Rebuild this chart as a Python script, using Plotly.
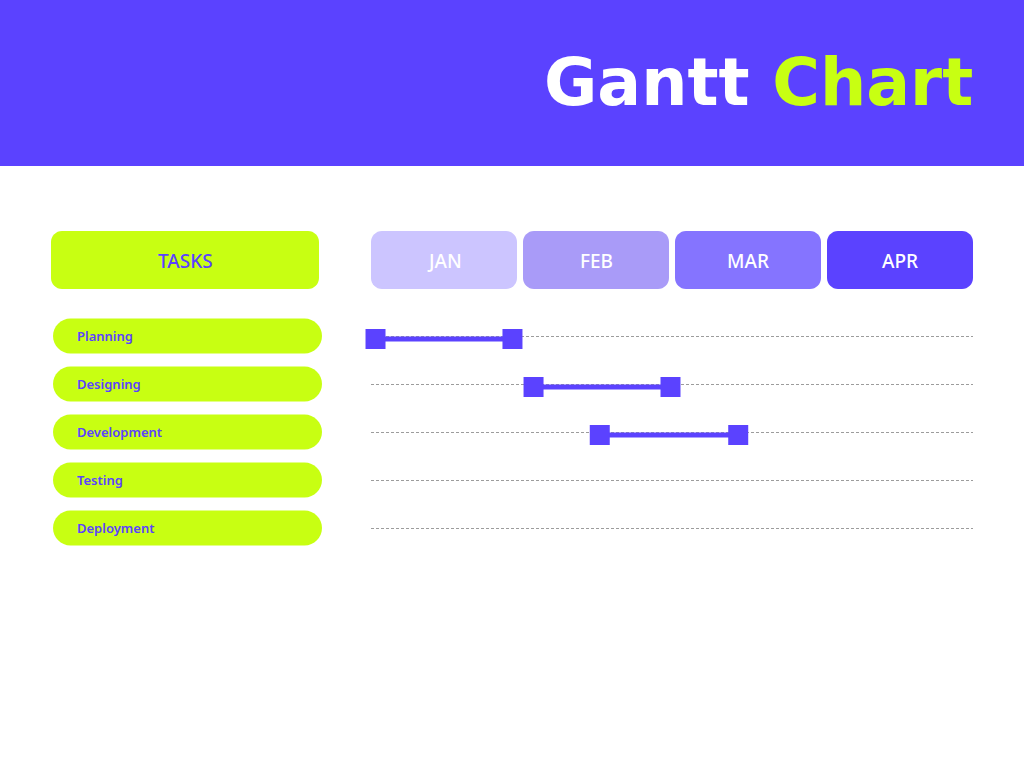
import plotly.graph_objects as go

# ---------------- data ----------------
tasks = ["Planning", "Designing", "Development", "Testing", "Deployment"]
months = ["JAN", "FEB", "MAR", "APR"]
# task start / end in months from the start of JAN
task_start = [0.03, 1.08, 1.52, None, None]
task_end = [0.94, 1.99, 2.44, None, None]
title_main = "Gantt"
title_accent = "Chart"
header_label = "TASKS"

# ---------------- style ----------------
W, H = 1024, 768
PURPLE = "#5B42FF"
LIME = "#C8FF12"
MONTH_COLORS = ["#CCC5FF", "#A99BF8", "#8574FF", "#5B42FF"]
GRID = "#9C9C9C"
FONT = "Noto Sans"


def px(x):
    return x / W


def py(y):
    return 1 - y / H


def rrect(x0, y0, x1, y1, r):
    k = 0.5523 * r
    pts = [
        ("M", [(x0 + r, y0)]),
        ("L", [(x1 - r, y0)]),
        ("C", [(x1 - r + k, y0), (x1, y0 + r - k), (x1, y0 + r)]),
        ("L", [(x1, y1 - r)]),
        ("C", [(x1, y1 - r + k), (x1 - r + k, y1), (x1 - r, y1)]),
        ("L", [(x0 + r, y1)]),
        ("C", [(x0 + r - k, y1), (x0, y1 - r + k), (x0, y1 - r)]),
        ("L", [(x0, y0 + r)]),
        ("C", [(x0, y0 + r - k), (x0 + r - k, y0), (x0 + r, y0)]),
    ]
    s = ""
    for cmd, ps in pts:
        s += cmd + " ".join(f"{px(a):.5f},{py(b):.5f}" for a, b in ps) + " "
    return s + "Z"


# layout geometry (pixels)
PLOT_X0, PLOT_X1 = 371, 973
ROW0, ROW_H = 312, 48
n = len(tasks)
ROWS_Y1 = ROW0 + ROW_H * n
BAR_SHIFT = 3

fig = go.Figure()

# invisible trace so the task-row axis (with its dashed grid) is drawn
fig.add_trace(go.Scatter(
    x=[0] * n, y=list(range(n)), mode="markers",
    marker=dict(opacity=0, size=1), hoverinfo="skip", showlegend=False,
    xaxis="x", yaxis="y",
))

for i, t in enumerate(tasks):
    if task_start[i] is None:
        continue
    fig.add_trace(go.Scatter(
        x=[task_start[i], task_end[i]], y=[i, i],
        mode="lines+markers",
        line=dict(color=PURPLE, width=5),
        marker=dict(symbol="square", size=20, color=PURPLE,
                    line=dict(color=PURPLE, width=0)),
        cliponaxis=False,
        xaxis="x", yaxis="y2", hoverinfo="skip", showlegend=False,
    ))

shapes = []
annotations = []

# header band
shapes.append(dict(type="rect", xref="paper", yref="paper", x0=0, x1=1,
                   y0=py(166), y1=1, fillcolor=PURPLE, line=dict(width=0),
                   layer="below"))
annotations.append(dict(
    xref="paper", yref="paper", x=px(975), y=py(82), xanchor="right",
    yanchor="middle", showarrow=False,
    text=f"{title_main} <span style='color:{LIME}'>{title_accent}</span>",
    font=dict(family="DejaVu Sans", size=65, color="white", weight="bold"),
))

# TASKS header box
shapes.append(dict(type="path", xref="paper", yref="paper",
                   path=rrect(51, 231, 319, 289, 11), fillcolor=LIME,
                   line=dict(width=0), layer="below"))
annotations.append(dict(xref="paper", yref="paper", x=px(185), y=py(261),
                        xanchor="center", yanchor="middle",
                        text=header_label, showarrow=False,
                        font=dict(family=FONT, size=19, color=PURPLE, weight=500)))

# month header boxes
pitch = (PLOT_X1 - PLOT_X0 + 6) / len(months)
for j, m in enumerate(months):
    x0 = PLOT_X0 + j * pitch
    x1 = x0 + pitch - 6
    shapes.append(dict(type="path", xref="paper", yref="paper",
                       path=rrect(x0, 231, x1, 289, 11),
                       fillcolor=MONTH_COLORS[j], line=dict(width=0),
                       layer="below"))
    annotations.append(dict(xref="paper", yref="paper", x=px((x0 + x1) / 2),
                            y=py(261), xanchor="center", yanchor="middle",
                            text=m, showarrow=False,
                            font=dict(family=FONT, size=19, color="white",
                                      weight=500)))

# task pills
for i, t in enumerate(tasks):
    cy = ROW0 + ROW_H / 2 + ROW_H * i
    shapes.append(dict(type="path", xref="paper", yref="paper",
                       path=rrect(53, cy - 17.5, 322, cy + 17.5, 17.5),
                       fillcolor=LIME, line=dict(width=0), layer="below"))
    annotations.append(dict(xref="paper", yref="paper", x=px(75), y=py(cy),
                            xanchor="left", yanchor="middle", text=t,
                            showarrow=False,
                            font=dict(family=FONT, size=13, color=PURPLE,
                                      weight=600)))

dom = [py(ROWS_Y1), py(ROW0)]
fig.update_layout(
    width=W, height=H, margin=dict(l=0, r=0, t=0, b=0),
    paper_bgcolor="white", plot_bgcolor="rgba(0,0,0,0)",
    showlegend=False,
    xaxis=dict(domain=[px(PLOT_X0), px(PLOT_X1)], range=[0, len(months)],
               showgrid=False, zeroline=False, showticklabels=False,
               ticks="", showline=False, fixedrange=True),
    yaxis=dict(domain=dom, range=[n - 0.5, -0.5], tickmode="array",
               tickvals=list(range(n)),
               showgrid=True, gridcolor=GRID, griddash="3px,2px", gridwidth=1,
               zeroline=False, showticklabels=False, ticks="", anchor="x"),
    yaxis2=dict(domain=[dom[0] - BAR_SHIFT / H, dom[1] - BAR_SHIFT / H],
                range=[n - 0.5, -0.5], visible=False, anchor="x",
                showgrid=False, zeroline=False),
    shapes=shapes, annotations=annotations,
)

fig.write_html("out.html")
